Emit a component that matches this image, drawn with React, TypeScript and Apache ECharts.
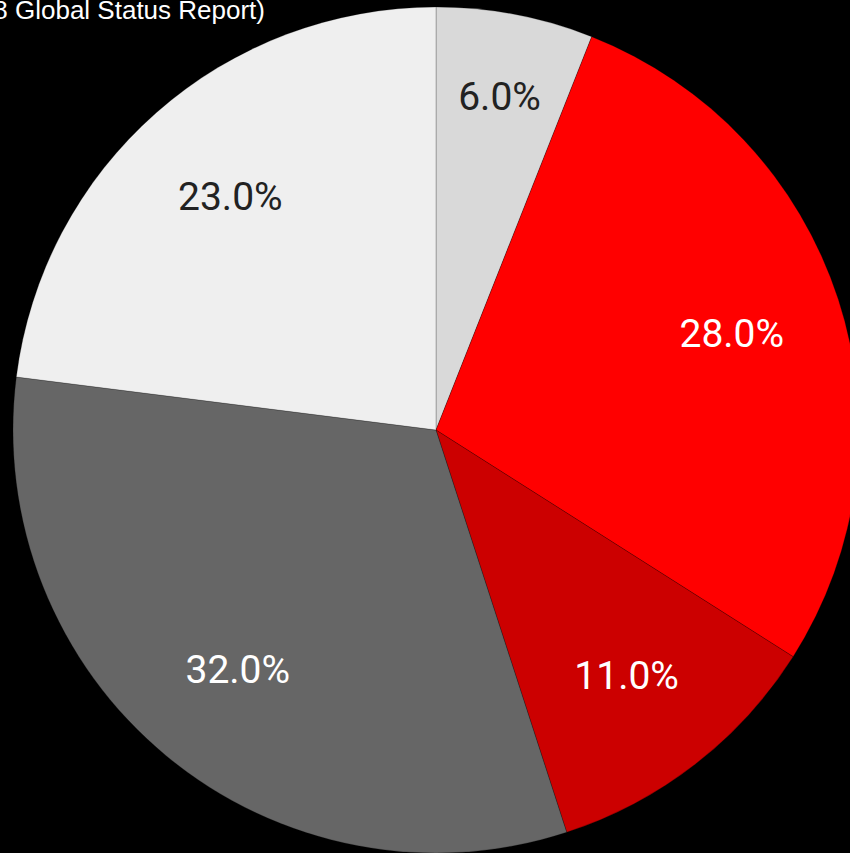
import React, { useEffect, useRef } from "react";
import * as echarts from "echarts";

const categories = ["Slice A", "Slice B", "Slice C", "Slice D", "Slice E"];
const values = [6, 28, 11, 32, 23];
const sliceColors = ["#d9d9d9", "#ff0000", "#cc0000", "#666666", "#efefef"];
const labelColors = ["#222222", "#ffffff", "#ffffff", "#ffffff", "#222222"];
const titleText = "(WHO 2018 Global Status Report)";

export default function App() {
  const ref = useRef<HTMLDivElement>(null);
  useEffect(() => {
    if (!ref.current) return;
    const chart = echarts.init(ref.current, null, { renderer: "svg" });
    const center = [436, 430];
    const R = 423;
    const labelStyle = (i: number) => ({
      show: true,
      position: "inside",
      formatter: (p: any) => p.value.toFixed(1) + "%",
      color: labelColors[i],
      fontFamily: "Roboto",
      fontSize: 39,
      textBorderWidth: 0,
    });
    const smallIdx = values.map((v, i) => (v < 8 ? i : -1)).filter((i) => i >= 0);
    chart.setOption({
      animation: false,
      backgroundColor: "#000000",
      title: {
        text: titleText,
        right: 585,
        top: -3,
        padding: 0,
        textStyle: {
          color: "#ffffff",
          fontSize: 26,
          fontWeight: "normal",
          fontFamily: "Liberation Sans, Arial, sans-serif",
        },
      },
      series: [
        {
          type: "pie",
          center,
          radius: [0, R],
          startAngle: 90,
          clockwise: true,
          silent: true,
          label: { show: false },
          labelLine: { show: false },
          itemStyle: { borderColor: "rgba(0,0,0,0.22)", borderWidth: 1 },
          data: categories.map((c, i) => ({
            name: c,
            value: values[i],
            itemStyle: { color: sliceColors[i] },
          })),
        },
        {
          type: "pie",
          center,
          radius: [298, 318],
          startAngle: 90,
          clockwise: true,
          silent: true,
          labelLine: { show: false },
          itemStyle: { color: "transparent", borderWidth: 0 },
          data: categories.map((c, i) => ({
            name: c,
            value: values[i],
            label: smallIdx.includes(i) ? { show: false } : labelStyle(i),
          })),
        },
        {
          type: "pie",
          center,
          radius: [326, 346],
          startAngle: 90,
          clockwise: true,
          silent: true,
          labelLine: { show: false },
          itemStyle: { color: "transparent", borderWidth: 0 },
          data: categories.map((c, i) => ({
            name: c,
            value: values[i],
            label: smallIdx.includes(i) ? labelStyle(i) : { show: false },
          })),
        },
      ],
    });
    return () => chart.dispose();
  }, []);
  return (
    <div
      ref={ref}
      style={{ position: "fixed", left: 0, top: 0, width: 850, height: 853, background: "#000" }}
    />
  );
}
